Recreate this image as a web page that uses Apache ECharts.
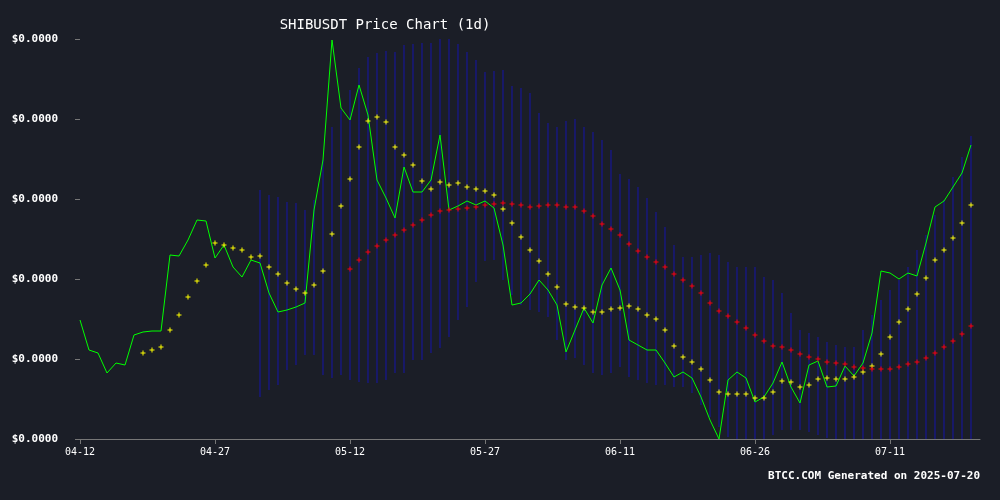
<!DOCTYPE html>
<html>
<head>
<meta charset="utf-8">
<script src="https://cdn.jsdelivr.net/npm/echarts@6/dist/echarts.min.js"></script>
<style>
  html, body { margin: 0; padding: 0; background: #1b1e27; }
  #chart { width: 1000px; height: 500px; }
</style>
</head>
<body>
<div id="chart"></div>
<script>
// prices in units of 1e-5 USDT, one value per day from 2025-04-12
const startDate = '2025-04-12';
const price = [1.119,1.089,1.086,1.066,1.076,1.074,1.104,1.107,1.108,1.108,
  1.184,1.183,1.199,1.219,1.218,1.181,1.194,1.172,1.162,1.179,
  1.176,1.146,1.127,1.129,1.132,1.136,1.229,1.279,1.399,1.331,
  1.319,1.354,1.324,1.259,1.241,1.221,1.272,1.247,1.247,1.259,
  1.304,1.229,1.233,1.238,1.234,1.238,1.231,1.194,1.134,1.136,
  1.145,1.159,1.149,1.134,1.087,1.109,1.131,1.116,1.154,1.171,
  1.149,1.099,1.094,1.089,1.089,1.076,1.062,1.067,1.061,1.042,
  1.019,1.000,1.059,1.067,1.061,1.037,1.042,1.056,1.077,1.052,
  1.036,1.074,1.078,1.052,1.053,1.073,1.063,1.076,1.106,1.168,
  1.166,1.160,1.166,1.163,1.196,1.232,1.238,1.252,1.266,1.294];
// short moving average, starts on day 7
const maShort = [null,null,null,null,null,null,null,1.086,1.089,1.092,
  1.109,1.124,1.142,1.158,1.174,1.196,1.194,1.191,1.189,1.182,
  1.183,1.172,1.165,1.156,1.150,1.146,1.154,1.168,1.205,1.233,
  1.260,1.292,1.318,1.322,1.317,1.292,1.284,1.274,1.258,1.250,
  1.257,1.254,1.256,1.252,1.250,1.248,1.244,1.230,1.216,1.202,
  1.189,1.178,1.165,1.152,1.135,1.132,1.131,1.127,1.127,1.130,
  1.131,1.133,1.130,1.124,1.120,1.109,1.093,1.082,1.077,1.070,
  1.059,1.047,1.045,1.045,1.045,1.041,1.041,1.047,1.058,1.057,
  1.052,1.054,1.060,1.061,1.060,1.060,1.062,1.067,1.073,1.085,
  1.102,1.117,1.130,1.145,1.161,1.179,1.189,1.201,1.216,1.234];
// long moving average, starts on day 30
const maLong = [null,null,null,null,null,null,null,null,null,null,
  null,null,null,null,null,null,null,null,null,null,
  null,null,null,null,null,null,null,null,null,null,
  1.170,1.179,1.187,1.193,1.199,1.204,1.209,1.214,1.219,1.224,
  1.228,1.229,1.230,1.231,1.232,1.234,1.235,1.236,1.235,1.234,
  1.232,1.233,1.234,1.234,1.232,1.232,1.228,1.223,1.215,1.210,
  1.204,1.195,1.188,1.182,1.177,1.172,1.165,1.159,1.153,1.146,
  1.136,1.128,1.123,1.117,1.111,1.104,1.098,1.093,1.092,1.089,
  1.085,1.082,1.080,1.077,1.076,1.075,1.072,1.071,1.070,1.070,
  1.070,1.072,1.075,1.077,1.081,1.086,1.092,1.098,1.105,1.113];
// band upper / lower, from day 20
const bandUpper = [1.249,1.244,1.242,1.237,1.236,1.229,1.239,1.279,1.312,1.329,
  1.349,1.371,1.382,1.386,1.388,1.387,1.394,1.395,1.396,1.396,
  1.403,1.401,1.395,1.387,1.379,1.367,1.368,1.369,1.353,1.351,
  1.346,1.326,1.316,1.312,1.318,1.320,1.312,1.307,1.299,1.289,
  1.265,1.260,1.252,1.241,1.227,1.212,1.194,1.182,1.182,1.184,
  1.186,1.184,1.177,1.172,1.172,1.172,1.162,1.159,1.146,1.126,
  1.109,1.106,1.102,1.097,1.094,1.092,1.092,1.109,1.124,1.139,
  1.149,1.159,1.172,1.189,1.204,1.224,1.239,1.262,1.282,1.303];
const bandLower = [1.042,1.049,1.054,1.069,1.074,1.084,1.084,1.064,1.061,1.064,
  1.059,1.057,1.056,1.056,1.059,1.066,1.066,1.079,1.079,1.086,
  1.091,1.102,1.119,1.132,1.157,1.178,1.179,1.159,1.144,1.134,
  1.129,1.127,1.122,1.099,1.079,1.081,1.074,1.066,1.064,1.066,
  1.072,1.062,1.059,1.056,1.054,1.054,1.052,1.052,1.046,1.034,
  1.022,1.012,1.002,0.999,0.997,0.997,0.999,1.004,1.009,1.009,
  1.009,1.007,1.004,1.001,0.999,0.997,0.994,0.994,0.994,0.994,
  0.994,0.994,0.994,0.994,0.994,0.994,0.994,0.994,0.994,0.994];
const bandStart = 20;

const dates = [];
const d0 = new Date(startDate + 'T00:00:00Z');
for (let i = 0; i <= price.length; i++) {
  const d = new Date(d0.getTime() + i * 86400000);
  dates.push(String(d.getUTCMonth() + 1).padStart(2, '0') + '-' + String(d.getUTCDate()).padStart(2, '0'));
}
const bands = bandUpper.map((u, k) => [k + bandStart, bandLower[k], u]);

const plus = 'path://M4,0H6V4H10V6H6V10H4V6H0V4H4Z';
const mono = 'DejaVu Sans Mono';
const chart = echarts.init(document.getElementById('chart'));
chart.setOption({
  backgroundColor: '#1b1e27',
  animation: false,
  title: {
    text: 'SHIBUSDT Price Chart (1d)', left: 380, top: 13, textAlign: 'center',
    textStyle: { color: '#ffffff', fontFamily: mono, fontSize: 14, fontWeight: 'normal' }
  },
  graphic: [{
    type: 'text', right: 20, top: 471,
    style: { text: 'BTCC.COM Generated on 2025-07-20', fill: '#ffffff', font: 'bold 11px "DejaVu Sans Mono"' }
  }],
  grid: { left: 80, right: 20, top: 39, bottom: 61 },
  xAxis: {
    type: 'category', data: dates, boundaryGap: false,
    axisLine: { lineStyle: { color: '#777777' } },
    axisTick: { interval: 14, length: 5, lineStyle: { color: '#777777' } },
    axisLabel: { interval: 14, color: '#ffffff', fontFamily: mono, fontSize: 10, margin: 8 },
    splitLine: { show: false }
  },
  yAxis: {
    type: 'value', min: 1.0, max: 1.4, interval: 0.08,
    axisLine: { show: false },
    axisTick: { show: true, length: 5, lineStyle: { color: '#777777' } },
    axisLabel: {
      color: '#ffffff', fontFamily: mono, fontSize: 11, fontWeight: 'bold', margin: 22,
      formatter: v => '$' + (v / 1e5).toFixed(4)
    },
    splitLine: { show: false }
  },
  series: [
    {
      type: 'custom', data: bands, clip: true, z: 1,
      renderItem: (params, api) => {
        const a = api.coord([api.value(0), api.value(1)]);
        const b = api.coord([api.value(0), api.value(2)]);
        return { type: 'line', shape: { x1: a[0], y1: a[1], x2: a[0], y2: b[1] },
          style: { stroke: '#17178c', lineWidth: 1.3 } };
      }
    },
    {
      type: 'line', data: price, showSymbol: false, z: 3,
      lineStyle: { color: '#00ff00', width: 1 }
    },
    {
      type: 'line', data: maShort, symbol: plus, symbolSize: 5, z: 4,
      lineStyle: { width: 0, opacity: 0 }, itemStyle: { color: '#ffff00' }
    },
    {
      type: 'line', data: maLong, symbol: plus, symbolSize: 5, z: 4,
      lineStyle: { width: 0, opacity: 0 }, itemStyle: { color: '#ff0000' }
    }
  ]
});
</script>
</body>
</html>
